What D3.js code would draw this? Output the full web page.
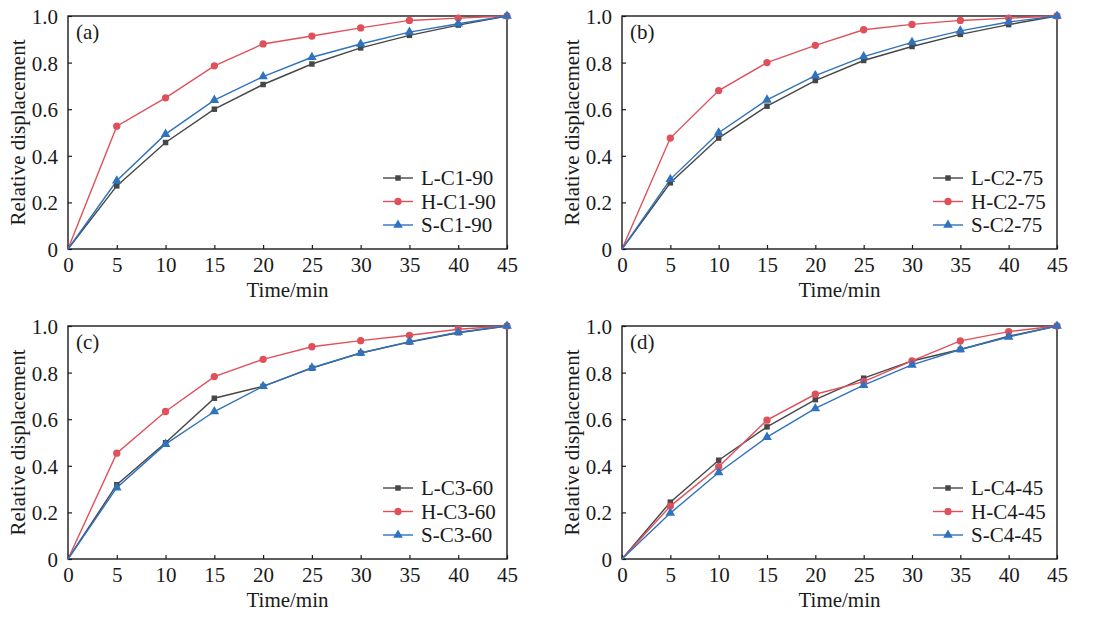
<!DOCTYPE html>
<html>
<head>
<meta charset="utf-8">
<script src="https://cdn.jsdelivr.net/npm/d3@7"></script>
<style>
body { margin: 0; background: #fff; }
svg text { font-family: "Times New Roman", "Liberation Serif", "DejaVu Serif", serif; fill: #1a1a1a; }
</style>
</head>
<body>
<svg></svg>
<script>
// time axis (min)
var times = [0, 5, 10, 15, 20, 25, 30, 35, 40, 45];
var xTicks = [0, 5, 10, 15, 20, 25, 30, 35, 40, 45];
var yTicks = [0, 0.2, 0.4, 0.6, 0.8, 1.0];

var panelLabels = ["(a)", "(b)", "(c)", "(d)"];
var legendNames = [
    ["L-C1-90", "H-C1-90", "S-C1-90"],
    ["L-C2-75", "H-C2-75", "S-C2-75"],
    ["L-C3-60", "H-C3-60", "S-C3-60"],
    ["L-C4-45", "H-C4-45", "S-C4-45"]
];

// relative displacement
var lC1 = [0, 0.271, 0.457, 0.600, 0.706, 0.794, 0.863, 0.917, 0.961, 1.0];
var hC1 = [0, 0.527, 0.649, 0.786, 0.880, 0.914, 0.949, 0.981, 0.991, 1.0];
var sC1 = [0, 0.293, 0.493, 0.639, 0.740, 0.823, 0.880, 0.931, 0.967, 1.0];

var lC2 = [0, 0.284, 0.476, 0.613, 0.723, 0.809, 0.869, 0.921, 0.963, 1.0];
var hC2 = [0, 0.476, 0.680, 0.800, 0.874, 0.941, 0.964, 0.981, 0.991, 1.0];
var sC2 = [0, 0.299, 0.499, 0.640, 0.744, 0.826, 0.887, 0.936, 0.974, 1.0];

var lC3 = [0, 0.319, 0.499, 0.690, 0.741, 0.819, 0.884, 0.931, 0.971, 1.0];
var hC3 = [0, 0.454, 0.633, 0.783, 0.857, 0.911, 0.937, 0.960, 0.986, 1.0];
var sC3 = [0, 0.306, 0.493, 0.633, 0.741, 0.821, 0.884, 0.933, 0.973, 1.0];

var lC4 = [0, 0.244, 0.424, 0.567, 0.684, 0.776, 0.850, 0.899, 0.956, 1.0];
var hC4 = [0, 0.227, 0.396, 0.596, 0.707, 0.761, 0.850, 0.936, 0.976, 1.0];
var sC4 = [0, 0.197, 0.371, 0.523, 0.646, 0.746, 0.833, 0.899, 0.953, 1.0];

var panelData = [[lC1, hC1, sC1], [lC2, hC2, sC2], [lC3, hC3, sC3], [lC4, hC4, sC4]];

var colors = ["#474747", "#e0505b", "#2f72bd"];
var symbols = [d3.symbolSquare, d3.symbolCircle, d3.symbolTriangle];
var symbolSizes = [30, 42, 40];
var serif = "'Times New Roman', 'Liberation Serif', 'DejaVu Serif', serif";
var fs = 21;

var svg = d3.select("svg").attr("width", 1096).attr("height", 617);

// panel boxes
var boxes = [
    {x: 68, y: 16, w: 439, h: 233},
    {x: 622, y: 16, w: 435, h: 233},
    {x: 68, y: 326, w: 439, h: 233},
    {x: 622, y: 326, w: 435, h: 233}
];

boxes.forEach(function (b, p) {
    drawPanel(b, p);
});

function drawPanel(b, p) {
    var g = svg.append("g").attr("transform", "translate(" + b.x + "," + b.y + ")");

    var x = d3.scaleLinear().domain([0, 45]).range([0, b.w]);
    var y = d3.scaleLinear().domain([0, 1]).range([b.h, 0]);

    // inward ticks
    var xAxis = d3.axisBottom(x).tickValues(xTicks).tickSizeInner(-4).tickSizeOuter(0)
        .tickPadding(7).tickFormat(d3.format("d"));
    var yAxis = d3.axisLeft(y).tickValues(yTicks).tickSizeInner(-4).tickSizeOuter(0)
        .tickPadding(10).tickFormat(function (d) { return d === 0 ? "0" : d.toFixed(1); });

    var gx = g.append("g").attr("transform", "translate(0," + b.h + ")").call(xAxis);
    var gy = g.append("g").call(yAxis);
    [gx, gy].forEach(function (a) {
        a.attr("font-family", serif).attr("font-size", fs);
        a.select(".domain").remove();
        a.selectAll("line").attr("stroke", "#1a1a1a").attr("stroke-width", 1.2);
        a.selectAll("text").attr("fill", "#1a1a1a");
    });
    gx.selectAll("text").attr("dy", "0.75em");
    gy.selectAll("text").attr("dy", "0.36em");

    // frame
    g.append("rect")
        .attr("width", b.w).attr("height", b.h)
        .attr("fill", "none").attr("stroke", "#1a1a1a").attr("stroke-width", 1.4);

    var line = d3.line()
        .x(function (d, i) { return x(times[i]); })
        .y(function (d) { return y(d); });

    panelData[p].forEach(function (vals, s) {
        g.append("path")
            .datum(vals)
            .attr("d", line)
            .attr("fill", "none")
            .attr("stroke", colors[s])
            .attr("stroke-width", 1.4);
    });
    panelData[p].forEach(function (vals, s) {
        g.selectAll(".m" + s)
            .data(vals.slice(1))
            .enter().append("path")
            .attr("transform", function (d, i) {
                return "translate(" + x(times[i + 1]) + "," + y(d) + ")";
            })
            .attr("d", d3.symbol().type(symbols[s]).size(symbolSizes[s]))
            .attr("fill", colors[s]);
    });

    // panel label
    g.append("text").attr("x", 8).attr("y", 23).attr("font-size", fs)
        .attr("font-family", serif).text(panelLabels[p]);

    // axis titles
    g.append("text")
        .attr("x", b.w / 2).attr("y", b.h + 48)
        .attr("text-anchor", "middle").attr("font-size", fs).attr("font-family", serif)
        .text("Time/min");
    g.append("text")
        .attr("transform", "translate(-43," + (b.h / 2) + ") rotate(-90)")
        .attr("text-anchor", "middle").attr("font-size", fs).attr("font-family", serif)
        .text("Relative displacement");

    // legend
    var lg = g.append("g").attr("transform", "translate(" + (b.w - 124) + "," + (b.h - 71) + ")");
    legendNames[p].forEach(function (name, s) {
        var row = lg.append("g").attr("transform", "translate(0," + (s * 23.5) + ")");
        row.append("line").attr("x1", 0).attr("x2", 30)
            .attr("stroke", colors[s]).attr("stroke-width", 1.4);
        row.append("path").attr("transform", "translate(15,0)")
            .attr("d", d3.symbol().type(symbols[s]).size(symbolSizes[s]))
            .attr("fill", colors[s]);
        row.append("text").attr("x", 38).attr("dy", "0.35em").attr("font-size", fs)
            .attr("font-family", serif).text(name);
    });
}
</script>
</body>
</html>
